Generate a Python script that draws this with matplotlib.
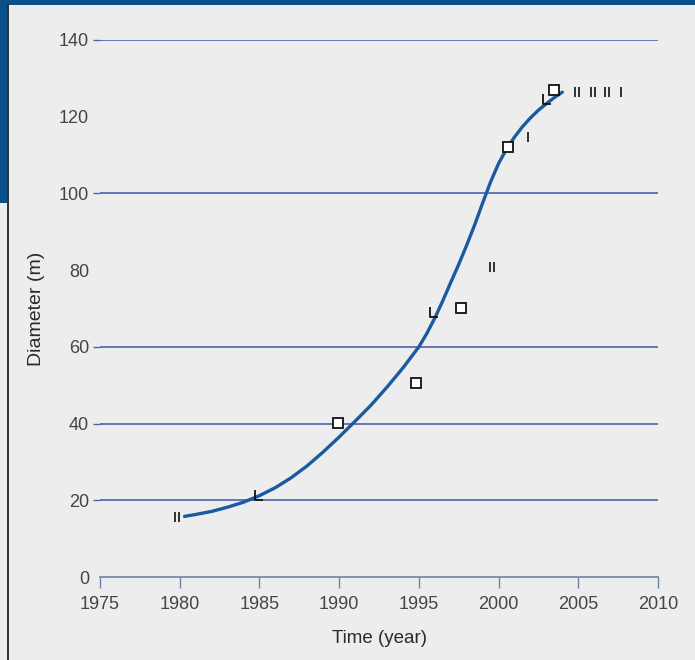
import matplotlib
matplotlib.use("Agg")
import matplotlib.pyplot as plt
from matplotlib.patches import Rectangle
from matplotlib.path import Path

plt.rcParams["font.family"] = ["Liberation Sans", "DejaVu Sans"]

# fitted growth curve
curve_years = [1980.3, 1981, 1982, 1983, 1984, 1985, 1986, 1987, 1988, 1989, 1990,
               1991, 1992, 1993, 1994, 1995, 1995.5, 1996, 1996.5, 1997, 1997.5,
               1998, 1998.5, 1999, 1999.5, 2000, 2000.5, 2001, 2001.5, 2002, 2002.5,
               2003, 2003.5, 2004]
curve_diam = [15.8, 16.3, 17.1, 18.2, 19.5, 21.2, 23.3, 25.9, 29, 32.6, 36.5,
              40.6, 44.8, 49.5, 54.5, 60, 63.5, 67.5, 72, 76.8, 81.5,
              86.5, 91.8, 97.5, 103, 107.8, 111.6, 114.7, 117.4, 119.7, 121.7,
              123.4, 125, 126.4]

# observed diameters
sq_years = [1989.9, 1994.8, 1997.65, 2000.6, 2003.5]
sq_diam = [40.2, 50.7, 70.2, 112, 126.9]
pair_years = [1979.8, 1999.6, 2004.9, 2005.9, 2006.8]
pair_diam = [15.7, 80.7, 126.4, 126.4, 126.4]
tick_years = [2001.85, 2007.7]
tick_diam = [114.6, 126.4]
corner_years = [1984.85, 1995.8, 2002.9]
corner_diam = [21.1, 68.9, 124.3]

grid_levels = [20, 40, 60, 100, 140]
y_ticks = [0, 20, 40, 60, 80, 100, 120, 140]
x_ticks = [1975, 1980, 1985, 1990, 1995, 2000, 2005, 2010]

bg = "#ededed"
grid_col = "#4a62b0"
line_col = "#1b5aa0"
text_col = "#444444"

fig = plt.figure(figsize=(6.95, 6.6), dpi=100, facecolor=bg)
ax = fig.add_axes([100 / 695, 83 / 660, 558 / 695, 537 / 660])
ax.set_facecolor(bg)

for lv in grid_levels:
    ax.axhline(lv, color=grid_col, lw=1.2, zorder=1)

ax.plot(curve_years, curve_diam, color=line_col, lw=2.4, solid_capstyle="round",
        solid_joinstyle="round", zorder=3)

pair_marker = Path([(-0.45, -1), (-0.45, 1), (0.45, -1), (0.45, 1)],
                   [Path.MOVETO, Path.LINETO, Path.MOVETO, Path.LINETO])
tick_marker = Path([(0, -1), (0, 1)], [Path.MOVETO, Path.LINETO])
corner_marker = Path([(-0.4, 1), (-0.4, -0.6), (1, -0.6)],
                     [Path.MOVETO, Path.LINETO, Path.LINETO])

ax.plot(sq_years, sq_diam, ls="none", marker="s", ms=7, mfc="white", mec="#111111",
        mew=1.3, zorder=4)
ax.plot(pair_years, pair_diam, ls="none", marker=pair_marker, ms=7, mec="#111111",
        mew=1.2, zorder=4)
ax.plot(tick_years, tick_diam, ls="none", marker=tick_marker, ms=7, mec="#111111",
        mew=1.2, zorder=4)
ax.plot(corner_years, corner_diam, ls="none", marker=corner_marker, ms=9, mec="#111111",
        mfc="none", fillstyle="none", mew=1.3, zorder=4)

ax.set_xlim(1975, 2010)
ax.set_ylim(0, 140)
for side in ["top", "right", "left"]:
    ax.spines[side].set_visible(False)
ax.spines["bottom"].set_color("#6f7fa8")
ax.spines["bottom"].set_linewidth(1.2)

ax.set_xticks(x_ticks)
ax.set_yticks(y_ticks)
ax.tick_params(axis="x", direction="out", length=8, width=1.0, color="#6f7fa8",
               labelsize=13, labelcolor=text_col, pad=6)
ax.tick_params(axis="y", direction="out", length=5, width=1.0, color=grid_col,
               labelsize=13, labelcolor=text_col, pad=3)
# no tick dash where there is no gridline
for t, v in zip(ax.yaxis.get_major_ticks(), y_ticks):
    if v not in grid_levels:
        t.tick1line.set_visible(False)

ax.set_xlabel("Time (year)", fontsize=13.5, color="#2a2a2a", labelpad=12)
ax.set_ylabel("Diameter (m)", fontsize=14, color="#2a2a2a", labelpad=10)

# blue frame along top and upper left
fig.patches.append(Rectangle((0, 1 - 5 / 660), 1, 5 / 660, transform=fig.transFigure,
                             facecolor="#0b4f8b", edgecolor="none", zorder=0))
fig.patches.append(Rectangle((0, 1 - 203 / 660), 7 / 695, 203 / 660,
                             transform=fig.transFigure, facecolor="#0b4f8b",
                             edgecolor="none", zorder=0))
fig.add_artist(plt.Line2D([7.5 / 695, 7.5 / 695], [0, 1 - 5 / 660],
                          transform=fig.transFigure, color="#111111", lw=1.2))

fig.savefig("out.png", dpi=100, facecolor=bg)
